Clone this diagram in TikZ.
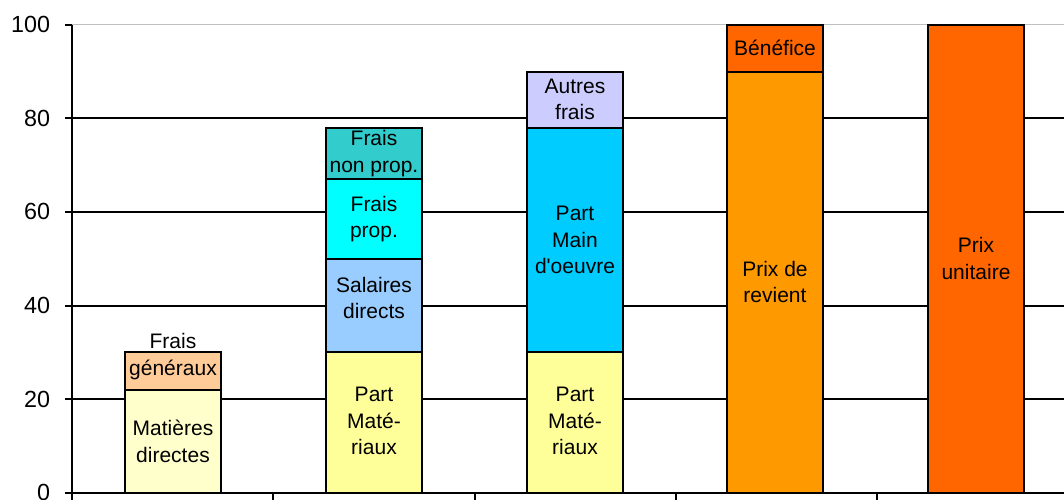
\documentclass[tikz,border=0pt]{standalone}
\usepackage{fontspec}
\setmainfont{Liberation Sans}
\definecolor{cPaleYellow}{HTML}{FFFFCC}
\definecolor{cPeach}{HTML}{FFCC99}
\definecolor{cYellow}{HTML}{FFFF99}
\definecolor{cSkyBlue}{HTML}{99CCFF}
\definecolor{cCyan}{HTML}{00FFFF}
\definecolor{cTeal}{HTML}{33CCCC}
\definecolor{cBlue}{HTML}{00CCFF}
\definecolor{cLavender}{HTML}{CCCCFF}
\definecolor{cLightOrange}{HTML}{FF9900}
\definecolor{cOrange}{HTML}{FF6600}
\definecolor{cGrid}{HTML}{C0C0C0}

\begin{document}
\begin{tikzpicture}[x=0.75pt, y=3.51pt, line width=1.5pt,
    seglabel/.style={align=center, inner sep=0pt, font=\fontsize{15.75}{19.9}\selectfont},
    axlabel/.style={anchor=east, inner sep=0pt, font=\fontsize{17.5}{20}\selectfont}]
    \useasboundingbox (-72,-1.346) rectangle (992,105.28);
    \draw[cGrid, line width=1pt] (0,100) -- (992,100);
    \foreach \v in {20,40,60,80} \draw (0,\v) -- (992,\v);
    \foreach \v in {0,20,...,100} {
      \draw (-7,\v) -- (0,\v);
      \node[axlabel] (tick\v) at (-21,\v) {\v};
    }
    \foreach \c in {0,201,403,604,805} \draw (\c,0) -- (\c,-3);
    \foreach \x/\b/\t/\col/\ly/\txt [count=\i] in {
        101/0/22/cPaleYellow/11/{Matières\\directes},
        101/22/30/cPeach/29.1/{Frais\\généraux},
        302/0/30/cYellow/15.3/{Part\\Maté-\\riaux},
        302/30/50/cSkyBlue/41.6/{Salaires\\directs},
        302/50/67/cCyan/58.5/{Frais\\prop.},
        302/67/78/cTeal/72.5/{Frais\\non prop.},
        503/0/30/cYellow/15.3/{Part\\Maté-\\riaux},
        503/30/78/cBlue/54/{Part\\Main\\d\textquotesingle oeuvre},
        503/78/90/cLavender/84/{Autres\\frais},
        703/0/90/cLightOrange/45/{Prix de\\revient},
        703/90/100/cOrange/95/{Bénéfice},
        904/0/100/cOrange/50/{Prix\\unitaire}} {
      \fill[\col] (\x-48,\b) rectangle (\x+48,\t);
      \draw (\x-48,\b) rectangle (\x+48,\t);
      \node[seglabel] (seg\i) at (\x,\ly) {\txt};
    }
    \draw (0,0) -- (0,100);
    \draw (0,0) -- (992,0);
  \end{tikzpicture}
\end{document}
